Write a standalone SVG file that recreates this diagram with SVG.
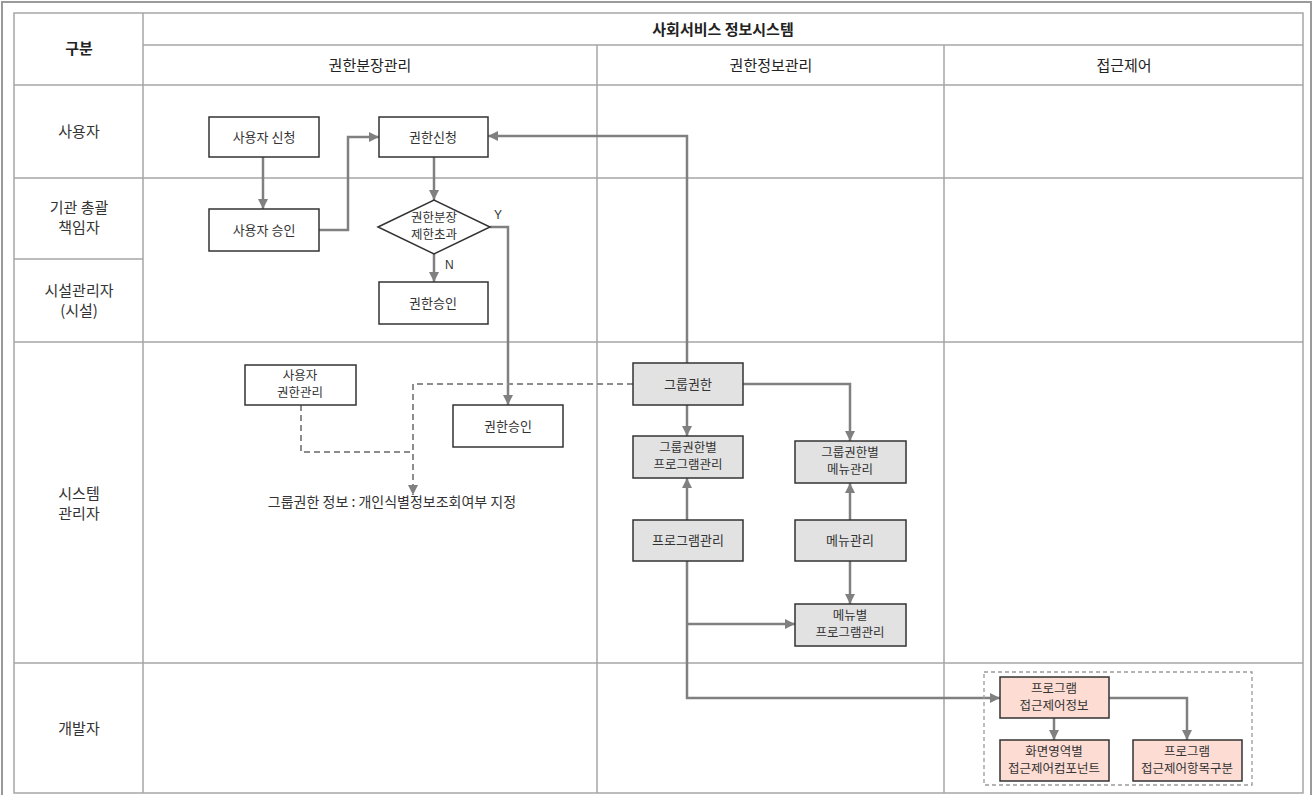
<svg xmlns="http://www.w3.org/2000/svg" width="1313" height="795" viewBox="0 0 1313 795">
  <style>
    .grid { stroke: #a6a6a6; stroke-width: 1.5; fill: none; }
    .frame { stroke: #9a9a9a; stroke-width: 2; fill: none; }
    .hdr { font-family: "Noto Sans CJK KR", "Noto Sans", sans-serif; font-size: 15px; fill: #222; text-anchor: middle; }
    .bold { font-weight: bold; }
    .lane { font-family: "Noto Sans CJK KR", "Noto Sans", sans-serif; font-size: 15px; fill: #333; text-anchor: middle; }
    .box { fill: #ffffff; stroke: #333; stroke-width: 1.5; }
    .gray { fill: #e2e2e2; stroke: #333; stroke-width: 1.5; }
    .pink { fill: #fcdcd3; stroke: #333; stroke-width: 1.5; }
    .lbl { font-family: "Noto Sans CJK KR", "Noto Sans", sans-serif; font-size: 13px; fill: #333; text-anchor: middle; }
    .two { font-size: 12.5px; }
    .note { font-size: 14px; }
    .edge { stroke: #808080; stroke-width: 2.5; fill: none; }
    .dash { stroke: #8c8c8c; stroke-width: 2; fill: none; stroke-dasharray: 6 4; }
    .small { font-family: "Liberation Sans", "Noto Sans", sans-serif; font-size: 12px; fill: #333; }
  </style>
  <defs>
    <marker id="arrow" viewBox="0 0 10 10" refX="10" refY="5" markerWidth="11" markerHeight="10" markerUnits="userSpaceOnUse" orient="auto">
      <path d="M0,0 L10,5 L0,10 z" fill="#808080"/>
    </marker>
  </defs>

  <rect width="1313" height="795" fill="#ffffff"/>

  <!-- outer frame -->
  <path class="frame" d="M2,800 V2 H1311 V800"/>

  <!-- swimlane table -->
  <g id="table">
    <rect class="grid" x="14" y="13" width="1289" height="780"/>
    <line class="grid" x1="143" y1="13" x2="143" y2="793"/>
    <line class="grid" x1="143" y1="45" x2="1303" y2="45"/>
    <line class="grid" x1="14" y1="85" x2="1303" y2="85"/>
    <line class="grid" x1="597" y1="45" x2="597" y2="793"/>
    <line class="grid" x1="944" y1="45" x2="944" y2="793"/>
    <line class="grid" x1="14" y1="178" x2="1303" y2="178"/>
    <line class="grid" x1="14" y1="259" x2="143" y2="259"/>
    <line class="grid" x1="14" y1="342" x2="1303" y2="342"/>
    <line class="grid" x1="14" y1="663" x2="1303" y2="663"/>

    <text class="hdr bold" x="79" y="54">구분</text>
    <text class="hdr bold" x="723" y="35">사회서비스 정보시스템</text>
    <text class="hdr" x="370" y="71">권한분장관리</text>
    <text class="hdr" x="771" y="71">권한정보관리</text>
    <text class="hdr" x="1124" y="71">접근제어</text>

    <text class="lane" x="79" y="137">사용자</text>
    <text class="lane" x="79" y="213">기관 총괄</text>
    <text class="lane" x="79" y="233">책임자</text>
    <text class="lane" x="79" y="296">시설관리자</text>
    <text class="lane" x="79" y="316">(시설)</text>
    <text class="lane" x="79" y="499">시스템</text>
    <text class="lane" x="79" y="519">관리자</text>
    <text class="lane" x="79" y="734">개발자</text>
  </g>

  <!-- connectors -->
  <g id="connectors">
    <path class="edge" d="M263,157 V209" marker-end="url(#arrow)"/>
    <path class="edge" d="M319,230 H348 V137 H379" marker-end="url(#arrow)"/>
    <path class="edge" d="M434,157 V200" marker-end="url(#arrow)"/>
    <path class="edge" d="M434,254 V282" marker-end="url(#arrow)"/>
    <path class="edge" d="M490,227 H508 V405" marker-end="url(#arrow)"/>
    <path class="edge" d="M687,363 V136 H488" marker-end="url(#arrow)"/>
    <path class="edge" d="M687,405 V436" marker-end="url(#arrow)"/>
    <path class="edge" d="M743,384 H850 V441" marker-end="url(#arrow)"/>
    <path class="edge" d="M687,520 V478" marker-end="url(#arrow)"/>
    <path class="edge" d="M850,520 V483" marker-end="url(#arrow)"/>
    <path class="edge" d="M850,561 V604" marker-end="url(#arrow)"/>
    <path class="edge" d="M687,561 V698 H1000" marker-end="url(#arrow)"/>
    <path class="edge" d="M687,624 H795" marker-end="url(#arrow)"/>
    <path class="edge" d="M1054,718 V740" marker-end="url(#arrow)"/>
    <path class="edge" d="M1109,698 H1187 V740" marker-end="url(#arrow)"/>
    <path class="dash" d="M633,384 H413 V495" marker-end="url(#arrow)"/>
    <path class="dash" d="M301,405 V452 H413"/>
    <text class="small" x="494" y="219">Y</text>
    <text class="small" x="445" y="269">N</text>
  </g>

  <g id="n-user-request">
    <rect class="box" x="209" y="117" width="110" height="40"/>
    <text class="lbl" x="264" y="142">사용자 신청</text>
  </g>
  <g id="n-user-approve">
    <rect class="box" x="209" y="209" width="110" height="42"/>
    <text class="lbl" x="264" y="235">사용자 승인</text>
  </g>
  <g id="n-auth-request">
    <rect class="box" x="379" y="117" width="109" height="40"/>
    <text class="lbl" x="433" y="142">권한신청</text>
  </g>
  <g id="n-decision">
    <polygon class="box" points="378,227 434,200 490,227 434,254"/>
    <text class="lbl two" x="434" y="222">권한분장</text>
    <text class="lbl two" x="434" y="239">제한초과</text>
  </g>
  <g id="n-auth-approve-1">
    <rect class="box" x="379" y="282" width="109" height="42"/>
    <text class="lbl" x="433" y="308">권한승인</text>
  </g>
  <g id="n-user-auth-mgmt">
    <rect class="box" x="245" y="365" width="111" height="40"/>
    <text class="lbl two" x="300" y="380">사용자</text>
    <text class="lbl two" x="300" y="397">권한관리</text>
  </g>
  <g id="n-auth-approve-2">
    <rect class="box" x="453" y="405" width="110" height="42"/>
    <text class="lbl" x="508" y="431">권한승인</text>
  </g>
  <g id="n-note">
    <text class="lbl note" x="392" y="507">그룹권한 정보 : 개인식별정보조회여부 지정</text>
  </g>
  <g id="n-group-auth">
    <rect class="gray" x="633" y="363" width="110" height="42"/>
    <text class="lbl" x="688" y="389">그룹권한</text>
  </g>
  <g id="n-group-program">
    <rect class="gray" x="633" y="436" width="110" height="42"/>
    <text class="lbl two" x="688" y="452">그룹권한별</text>
    <text class="lbl two" x="688" y="469">프로그램관리</text>
  </g>
  <g id="n-group-menu">
    <rect class="gray" x="795" y="441" width="111" height="42"/>
    <text class="lbl two" x="850" y="457">그룹권한별</text>
    <text class="lbl two" x="850" y="474">메뉴관리</text>
  </g>
  <g id="n-program-mgmt">
    <rect class="gray" x="633" y="520" width="110" height="41"/>
    <text class="lbl" x="688" y="545">프로그램관리</text>
  </g>
  <g id="n-menu-mgmt">
    <rect class="gray" x="795" y="520" width="111" height="41"/>
    <text class="lbl" x="850" y="545">메뉴관리</text>
  </g>
  <g id="n-menu-program">
    <rect class="gray" x="795" y="604" width="111" height="42"/>
    <text class="lbl two" x="850" y="620">메뉴별</text>
    <text class="lbl two" x="850" y="637">프로그램관리</text>
  </g>

  <g id="access-control-group">
    <rect x="984" y="672" width="268" height="113" fill="none" stroke="#9a9a9a" stroke-width="1.3" stroke-dasharray="4 3"/>
  </g>
  <g id="n-program-access">
    <rect class="pink" x="1000" y="677" width="109" height="41"/>
    <text class="lbl two" x="1054" y="693">프로그램</text>
    <text class="lbl two" x="1054" y="710">접근제어정보</text>
  </g>
  <g id="n-screen-component">
    <rect class="pink" x="1000" y="740" width="109" height="41"/>
    <text class="lbl two" x="1054" y="756">화면영역별</text>
    <text class="lbl two" x="1054" y="773">접근제어컴포넌트</text>
  </g>
  <g id="n-access-item">
    <rect class="pink" x="1133" y="740" width="109" height="41"/>
    <text class="lbl two" x="1187" y="756">프로그램</text>
    <text class="lbl two" x="1187" y="773">접근제어항목구분</text>
  </g>
</svg>
